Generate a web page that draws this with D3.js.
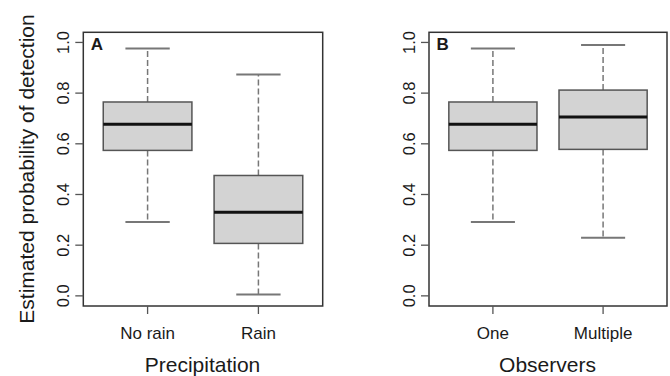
<!DOCTYPE html>
<html>
<head>
<meta charset="utf-8">
<script src="https://cdn.jsdelivr.net/npm/d3@7"></script>
<style>
  body { margin: 0; background: #fff; }
  svg text { font-family: "Liberation Sans", Arial, sans-serif; fill: #1a1a1a; }
</style>
</head>
<body>
<div id="chart"></div>
<script>
// five-number summaries
var precipCats = ['No rain', 'Rain'];
var precipLow = [0.291, 0.005];
var precipQ1 = [0.574, 0.207];
var precipMed = [0.677, 0.330];
var precipQ3 = [0.765, 0.475];
var precipHigh = [0.976, 0.873];

var obsCats = ['One', 'Multiple'];
var obsLow = [0.291, 0.229];
var obsQ1 = [0.574, 0.578];
var obsMed = [0.677, 0.706];
var obsQ3 = [0.765, 0.812];
var obsHigh = [0.976, 0.990];

var yTicks = [0, 0.2, 0.4, 0.6, 0.8, 1.0];

var $svg = d3.select('#chart').append('svg')
    .attr('width', 670).attr('height', 376);

// y scale shared by both panels (R pads 4% each side)
var y = d3.scaleLinear().domain([-0.04, 1.04]).range([306, 32.3]);

function panel(left, right, cats, lo, q1, med, q3, hi, letter, title) {
    var g = $svg.append('g');
    // R places groups at 1..n with xlim 0.42..n+0.58
    var x = d3.scaleLinear().domain([0.42, cats.length + 0.58]).range([left, right]);
    var boxW = x(1.8) - x(1);

    var rows = cats.map(function(c, i) {
        return { cat: c, pos: i + 1, lo: lo[i], q1: q1[i], med: med[i], q3: q3[i], hi: hi[i] };
    });

    var b = g.selectAll('g.box').data(rows).enter().append('g').attr('class', 'box');

    // whiskers
    b.append('line')
        .attr('x1', function(d) { return x(d.pos); })
        .attr('x2', function(d) { return x(d.pos); })
        .attr('y1', function(d) { return y(d.q3); })
        .attr('y2', function(d) { return y(d.hi); })
        .attr('stroke', '#777').attr('stroke-width', 1.5).attr('stroke-dasharray', '6,3');
    b.append('line')
        .attr('x1', function(d) { return x(d.pos); })
        .attr('x2', function(d) { return x(d.pos); })
        .attr('y1', function(d) { return y(d.q1); })
        .attr('y2', function(d) { return y(d.lo); })
        .attr('stroke', '#777').attr('stroke-width', 1.5).attr('stroke-dasharray', '6,3');

    // caps
    ['hi', 'lo'].forEach(function(k) {
        b.append('line')
            .attr('x1', function(d) { return x(d.pos) - boxW / 4; })
            .attr('x2', function(d) { return x(d.pos) + boxW / 4; })
            .attr('y1', function(d) { return y(d[k]); })
            .attr('y2', function(d) { return y(d[k]); })
            .attr('stroke', '#777').attr('stroke-width', 2);
    });

    // boxes
    b.append('rect')
        .attr('x', function(d) { return x(d.pos) - boxW / 2; })
        .attr('width', boxW)
        .attr('y', function(d) { return y(d.q3); })
        .attr('height', function(d) { return y(d.q1) - y(d.q3); })
        .attr('fill', '#d3d3d3').attr('stroke', '#555').attr('stroke-width', 1.5);

    // medians
    b.append('line')
        .attr('x1', function(d) { return x(d.pos) - boxW / 2; })
        .attr('x2', function(d) { return x(d.pos) + boxW / 2; })
        .attr('y1', function(d) { return y(d.med); })
        .attr('y2', function(d) { return y(d.med); })
        .attr('stroke', '#111').attr('stroke-width', 3);

    // frame
    g.append('rect')
        .attr('x', left).attr('y', y.range()[1])
        .attr('width', right - left).attr('height', y.range()[0] - y.range()[1])
        .attr('fill', 'none').attr('stroke', '#333').attr('stroke-width', 1.5);

    // y axis ticks
    g.selectAll('line.yt').data(yTicks).enter().append('line')
        .attr('x1', left - 8).attr('x2', left)
        .attr('y1', function(d) { return y(d); })
        .attr('y2', function(d) { return y(d); })
        .attr('stroke', '#555').attr('stroke-width', 1.3);
    g.selectAll('text.yl').data(yTicks).enter().append('text')
        .attr('transform', function(d) { return 'translate(' + (left - 14.5) + ',' + y(d) + ') rotate(-90)'; })
        .attr('text-anchor', 'middle')
        .style('font-size', '16.5px')
        .text(function(d) { return d.toFixed(1); });

    // x axis ticks
    g.selectAll('line.xt').data(rows).enter().append('line')
        .attr('x1', function(d) { return x(d.pos); })
        .attr('x2', function(d) { return x(d.pos); })
        .attr('y1', 306).attr('y2', 314)
        .attr('stroke', '#555').attr('stroke-width', 1.3);
    g.selectAll('text.xl').data(rows).enter().append('text')
        .attr('x', function(d) { return x(d.pos); })
        .attr('y', 338.5)
        .attr('text-anchor', 'middle')
        .style('font-size', '17px')
        .text(function(d) { return d.cat; });

    g.append('text')
        .attr('x', (left + right) / 2 - 0.5).attr('y', 371.7)
        .attr('text-anchor', 'middle')
        .style('font-size', '21px')
        .text(title);

    g.append('text')
        .attr('x', left + 7.5).attr('y', 50)
        .style('font-size', '17px').style('font-weight', 'bold')
        .text(letter);
}

panel(83.3, 322.7, precipCats, precipLow, precipQ1, precipMed, precipQ3, precipHigh, 'A', 'Precipitation');
panel(429, 667, obsCats, obsLow, obsQ1, obsMed, obsQ3, obsHigh, 'B', 'Observers');

$svg.append('text')
    .attr('transform', 'translate(33.5,' + 169 + ') rotate(-90)')
    .attr('text-anchor', 'middle')
    .style('font-size', '21px')
    .text('Estimated probability of detection');
</script>
</body>
</html>
